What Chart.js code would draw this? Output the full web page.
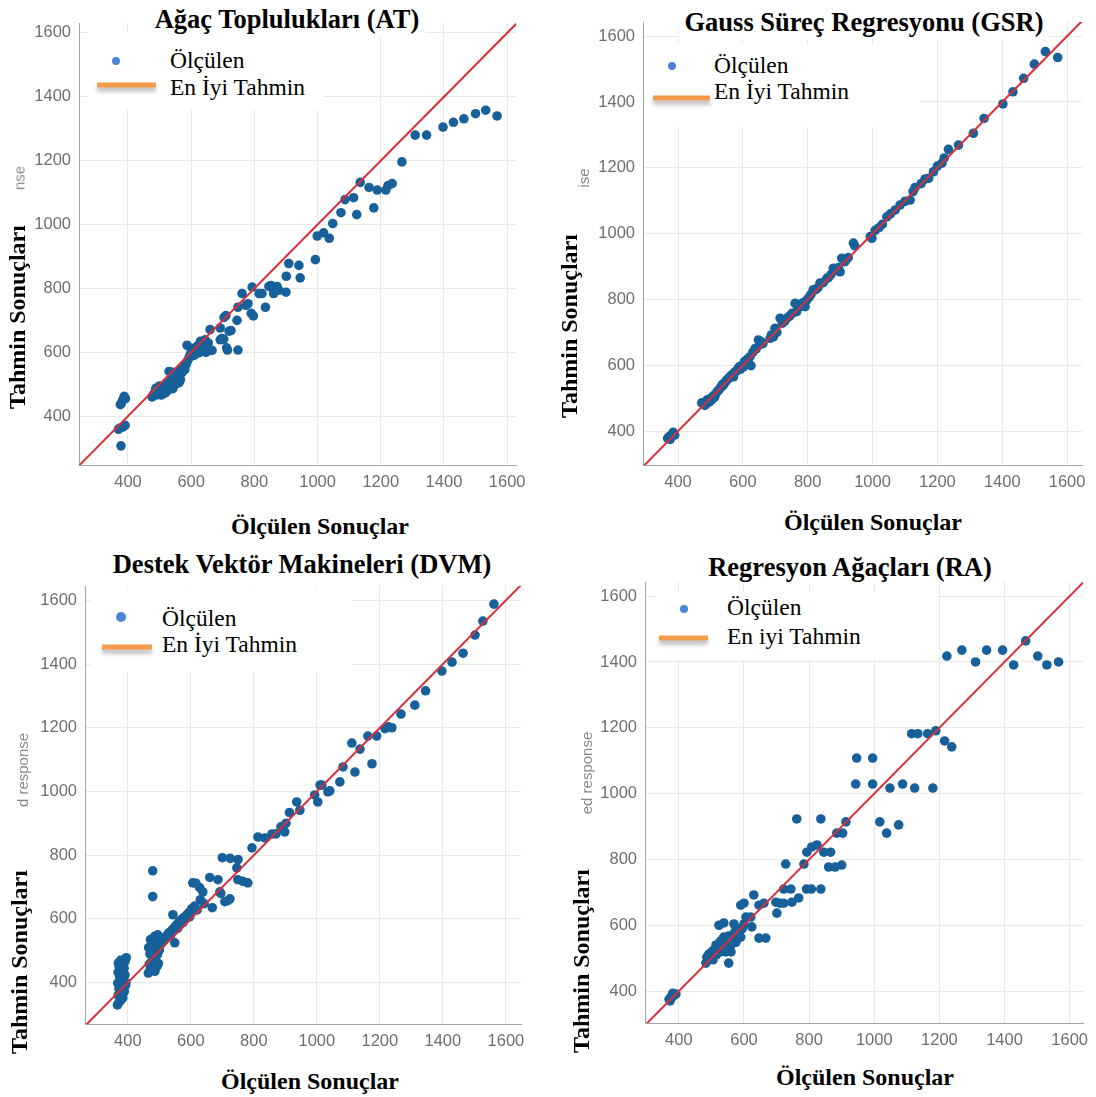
<!DOCTYPE html>
<html lang="tr">
<head>
<meta charset="utf-8">
<title>Tahmin ve Ölçülen Sonuçlar</title>
<script src="https://cdn.jsdelivr.net/npm/chart.js@4.4.1/dist/chart.umd.min.js"></script>
<style>
  html, body { margin: 0; padding: 0; background: #fff; }
  #page { position: relative; width: 1096px; height: 1097px; overflow: hidden; font-family: "Liberation Serif", "Times New Roman", serif; }
  canvas { position: absolute; }
  .lbl { position: absolute; white-space: nowrap; transform: translate(-50%, -50%); z-index: 3; line-height: 1; }
  .title { font-weight: bold; font-size: 26.5px; background: #fff; padding: 3px 6px; }
  .axis-title { font-weight: bold; font-size: 24px; }
  .axis-title.y { transform: translate(-50%, -50%) rotate(-90deg); }
  .ghost { font-family: "Liberation Sans", Arial, sans-serif; font-size: 15px; color: #8a8a8a; transform: translate(-50%, -50%) rotate(-90deg); z-index: 1; }
  .legend-box { position: absolute; background: #fff; z-index: 2; }
  .legend-dot { position: absolute; border-radius: 50%; background: #4c84d4; transform: translate(-50%, -50%); z-index: 3; }
  .legend-line { position: absolute; height: 5px; background: #f39a4b; box-shadow: 0 4px 4px rgba(0,0,0,0.28); transform: translateY(-50%); z-index: 3; }
  .legend-text { position: absolute; font-size: 23.5px; transform: translateY(-50%); z-index: 3; white-space: nowrap; line-height: 1; }
</style>
</head>
<body>
<div id="page"></div>
<script>
const TICK_VALUES = [400, 600, 800, 1000, 1200, 1400, 1600];

const LEGEND_LABELS = ["Ölçülen", "En İyi Tahmin"];
const RA_LEGEND_LABELS = ["Ölçülen", "En iyi Tahmin"];

// [measured, predicted] pairs for each model
const AT_POINTS = [
  [370,359],[378,307],[384,366],[391,371],[373,362],[379,440],[388,462],[383,450],[392,455],[376,436],
  [476,460],[481,468],[485,474],[489,466],[493,479],[497,470],[501,484],[505,476],[509,489],[513,481],
  [516,494],[520,486],[523,499],[526,490],[529,504],[532,496],[535,510],[538,502],[541,517],[545,508],
  [548,523],[551,514],[554,530],[558,520],[561,537],[564,528],[568,545],[572,538],[576,553],[580,546],
  [584,562],[588,572],[592,580],[596,590],[530,540],[540,537],[488,487],[499,494],[556,503],[524,478],
  [511,470],[542,486],[566,514],[505,466],[519,474],[547,498],[562,505],
  [587,622],[600,600],[605,612],[609,590],[614,604],[619,619],[624,598],[629,634],[634,611],[639,624],
  [644,639],[649,617],[654,629],[659,607],[647,600],[666,606],[660,671],[692,676],[692,639],[703,641],
  [720,666],[715,607],[748,607],[704,709],[726,668],[697,643],[712,614],[710,715],[745,700],[748,741],
  [761,784],
  [773,747],[780,752],[790,722],[797,714],[793,804],[815,784],[824,784],[835,741],[846,806],[853,809],
  [861,784],[872,806],[878,794],[900,788],[901,838],[909,878],[941,872],[945,833],
  [993,890],[999,964],[1019,974],[1037,957],[1048,1003],[1074,1037],[1087,1078],[1114,1084],[1124,1031],
  [1135,1132],[1163,1116],[1178,1052],[1189,1108],[1216,1108],[1223,1122],[1236,1128],[1267,1196],
  [1309,1280],[1345,1280],[1397,1305],[1430,1320],[1463,1331],[1500,1347],[1532,1358],[1568,1340]
];

const GSR_POINTS = [
  [368,378],[373,383],[378,386],[382,390],[386,393],[390,388],[376,375],[385,396],
  [473,486],[478,482],[483,478],[489,494],[490,485],[494,495],[497,489],[501,500],[505,496],[509,507],
  [513,503],[517,514],[521,520],[525,524],[529,530],[533,534],[537,542],[540,540],[545,548],[549,553],
  [553,558],[557,560],[561,566],[565,570],[571,565],[573,577],[577,581],[581,583],[585,590],[589,595],
  [593,588],[597,600],[602,595],[605,611],[609,606],[613,617],[617,620],[622,626],[625,599],[631,640],
  [638,651],[641,650],[648,677],[651,662],[657,671],[662,666],
  [684,682],[688,692],[694,686],[699,712],[705,700],[715,743],[722,728],[730,735],[738,745],[745,750],
  [752,758],[761,788],[766,763],[772,775],[779,783],[785,790],[792,778],[797,798],[804,806],[810,815],
  [817,829],[825,830],[832,836],[838,850],[848,851],[859,864],[864,866],[872,876],[879,895],[888,890],
  [895,897],[900,884],[905,925],[915,915],[925,927],[941,971],[945,963],
  [993,991],[998,986],[1008,1010],[1020,1018],[1030,1028],[1044,1051],[1055,1060],[1070,1072],[1085,1087],
  [1100,1098],[1116,1102],[1125,1128],[1131,1140],[1150,1152],[1162,1166],[1173,1168],[1188,1188],
  [1200,1205],[1214,1214],[1221,1230],[1234,1256],[1265,1269],[1311,1305],[1344,1350],[1402,1394],
  [1433,1431],[1466,1472],[1499,1515],[1533,1553],[1571,1535]
];

const DVM_POINTS = [
  [367,330],[372,338],[378,345],[384,352],[369,360],[376,368],[389,372],[372,380],[381,388],[393,392],
  [368,398],[378,405],[386,410],[374,418],[391,424],[369,432],[380,438],[388,445],[372,452],[384,458],
  [391,466],[377,470],[395,478],[370,462],[382,425],[394,400],
  [465,430],[470,438],[478,445],[486,435],[492,450],[468,458],[475,465],[482,472],[497,460],[488,480],
  [470,490],[480,497],[494,488],[500,502],[466,510],[478,518],[490,520],[498,530],[472,535],[485,545],
  [495,550],[479,751],[479,670],
  [505,520],[512,530],[518,540],[524,548],[530,556],[535,545],[540,565],[543,613],[549,525],[547,572],
  [553,580],[558,570],[562,590],[566,582],[570,598],[575,588],[578,605],[583,600],[587,612],[592,618],
  [596,606],[600,625],[606,713],[616,712],[628,698],[638,685],[603,632],[612,640],[620,628],[630,660],
  [642,648],[668,635],[695,680],[717,657],
  [660,730],[686,723],[692,685],[708,654],[724,663],[700,792],[725,790],[750,786],[746,760],[749,723],
  [765,718],[781,713],[794,823],[813,857],[835,854],[857,866],[870,867],[886,889],[898,873],[902,900],
  [913,934],[936,967],[946,941],[993,989],[1003,967],[1010,1020],[1016,1020],[1035,999],[1041,1002],
  [1073,1030],[1083,1077],[1111,1152],[1121,1061],[1137,1133],[1162,1174],[1175,1087],[1190,1174],
  [1216,1197],[1228,1203],[1238,1200],[1267,1243],[1311,1271],[1345,1316],[1397,1378],[1429,1406],
  [1464,1434],[1502,1491],[1527,1535],[1562,1588]
];

const RA_POINTS = [
  [370,375],[375,380],[379,382],[384,386],[388,390],[391,391],[381,393],[373,370],
  [483,485],[486,503],[492,512],[501,519],[497,500],[514,540],[523,540],[532,540],[553,485],[544,519],
  [560,519],[538,564],[553,567],[569,570],[578,561],[590,564],[523,600],[538,607],[569,604],[600,604],
  [624,595],[606,625],[621,625],[508,525],[520,530],[530,520],[545,545],[555,550],[565,555],[575,548],
  [585,575],[595,590],[505,495],[515,510],[548,535],[560,540],[572,580],[580,590],[528,552],[540,530],
  [590,661],[600,667],[630,692],[646,661],[661,667],[646,561],[667,561],[698,670],[710,667],[722,667],
  [701,637],[747,670],[768,683],[722,710],[744,710],[792,710],[807,710],[836,710],[728,786],[784,786],
  [793,822],[808,838],[824,844],[845,822],[866,822],[860,777],[880,777],[900,783],[762,923],[836,923],
  [885,880],[903,880],[913,914],
  [946,1108],[995,1108],[943,1029],[995,1029],[1048,1017],[1087,1029],[1124,1017],[1180,1017],[1017,914],
  [1038,880],[1075,905],[1115,1182],[1134,1182],[1164,1182],[1189,1191],[1216,1160],[1238,1142],
  [1223,1418],[1269,1436],[1311,1400],[1345,1436],[1394,1436],[1428,1391],[1465,1464],[1502,1418],
  [1530,1391],[1566,1400]
];

const DOT_COLOR = "#17609a";
const LINE_COLOR = "#d92f3a";

// plot frames in page pixels: [left, top, right, bottom]
const PANELS = [
  {
    title: "Ağaç Toplulukları (AT)", points: AT_POINTS, labels: LEGEND_LABELS,
    area: [79, 23, 516, 465], xRange: [245, 1628], yRange: [247, 1631],
    titleAt: [287, 19], yTitleAt: [17, 317], xTitleAt: [320, 526],
    ghost: { text: "nse", at: [19, 178] },
    legend: { box: [88, 32, 235, 78], dot: [116, 61, 8], line: [97, 156, 85], text: [170, 61, 88] },
  },
  {
    title: "Gauss Süreç Regresyonu (GSR)", points: GSR_POINTS, labels: LEGEND_LABELS,
    area: [643, 22, 1082, 465], xRange: [292, 1646], yRange: [297, 1643],
    titleAt: [864, 22], yTitleAt: [569, 326], xTitleAt: [873, 522],
    ghost: { text: "ise", at: [583, 178] },
    legend: { box: [645, 45, 275, 82], dot: [672, 66, 8], line: [653, 710, 98], text: [714, 66, 92] },
  },
  {
    title: "Destek Vektör Makineleri (DVM)", points: DVM_POINTS, labels: LEGEND_LABELS,
    area: [85, 586, 521, 1024], xRange: [264, 1648], yRange: [270, 1645],
    titleAt: [302, 564], yTitleAt: [19, 962], xTitleAt: [310, 1081],
    ghost: { text: "d response", at: [22, 770] },
    legend: { box: [90, 588, 262, 84], dot: [121, 617, 10], line: [102, 152, 647], text: [162, 619, 645] },
  },
  {
    title: "Regresyon Ağaçları (RA)", points: RA_POINTS, labels: RA_LEGEND_LABELS,
    area: [645, 582, 1083, 1023], xRange: [296, 1641], yRange: [303, 1643],
    titleAt: [850, 567], yTitleAt: [581, 961], xTitleAt: [865, 1077],
    ghost: { text: "ed response", at: [586, 773] },
    legend: { box: [656, 592, 282, 68], dot: [684, 609, 8], line: [659, 708, 638], text: [727, 608, 637] },
  },
];

const page = document.getElementById("page");

function addLabel(cls, text, x, y) {
  const el = document.createElement("div");
  el.className = "lbl " + cls;
  el.textContent = text;
  el.style.left = x + "px";
  el.style.top = y + "px";
  page.appendChild(el);
  return el;
}

function addLegend(p) {
  const lg = p.legend;
  const box = document.createElement("div");
  box.className = "legend-box";
  Object.assign(box.style, { left: lg.box[0] + "px", top: lg.box[1] + "px", width: lg.box[2] + "px", height: lg.box[3] + "px" });
  page.appendChild(box);

  const dot = document.createElement("div");
  dot.className = "legend-dot";
  Object.assign(dot.style, { left: lg.dot[0] + "px", top: lg.dot[1] + "px", width: lg.dot[2] + "px", height: lg.dot[2] + "px" });
  page.appendChild(dot);

  const line = document.createElement("div");
  line.className = "legend-line";
  Object.assign(line.style, { left: lg.line[0] + "px", width: (lg.line[1] - lg.line[0]) + "px", top: lg.line[2] + "px" });
  page.appendChild(line);

  p.labels.forEach((txt, i) => {
    const t = document.createElement("div");
    t.className = "legend-text";
    t.textContent = txt;
    t.style.left = lg.text[0] + "px";
    t.style.top = lg.text[1 + i] + "px";
    page.appendChild(t);
  });
}

function axisOptions(range, fitKey, fitSize) {
  return {
    type: "linear",
    min: range[0],
    max: range[1],
    afterBuildTicks: (s) => { s.ticks = TICK_VALUES.map((v) => ({ value: v })); },
    afterFit: (s) => { s[fitKey] = fitSize; },
    ticks: {
      autoSkip: false,
      maxRotation: 0,
      padding: 8,
      color: "#6e6e6e",
      font: { family: "Liberation Sans", size: 16.5 },
      callback: (v) => String(v),
    },
    grid: { color: "#e8e8e8", lineWidth: 1, drawTicks: false },
    border: { color: "#a3a3a3", width: 1 },
  };
}

function makeChart(p) {
  // generous top/right room so edge tick labels never shrink the plot frame
  const pad = { left: 60, top: 26, right: 32, bottom: 30 };
  const [l, t, r, b] = p.area;
  const width = (r - l) + pad.left + pad.right;
  const height = (b - t) + pad.top + pad.bottom;

  const canvas = document.createElement("canvas");
  canvas.width = width;
  canvas.height = height;
  canvas.style.left = (l - pad.left) + "px";
  canvas.style.top = (t - pad.top) + "px";
  canvas.style.width = width + "px";
  canvas.style.height = height + "px";
  page.appendChild(canvas);

  const lo = Math.min(p.xRange[0], p.yRange[0]);
  const hi = Math.max(p.xRange[1], p.yRange[1]);

  new Chart(canvas, {
    type: "scatter",
    data: {
      datasets: [
        {
          type: "line",
          label: p.labels[1],
          data: [{ x: lo, y: lo }, { x: hi, y: hi }],
          borderColor: LINE_COLOR,
          borderWidth: 2,
          pointRadius: 0,
          order: 0,
        },
        {
          label: p.labels[0],
          data: p.points.map(([x, y]) => ({ x, y })),
          backgroundColor: DOT_COLOR,
          borderWidth: 0,
          pointRadius: 4.8,
          order: 1,
        },
      ],
    },
    options: {
      responsive: false,
      animation: false,
      layout: { padding: { left: 0, top: pad.top, right: pad.right, bottom: 0 } },
      plugins: { legend: { display: false }, tooltip: { enabled: false } },
      scales: {
        x: axisOptions(p.xRange, "height", pad.bottom),
        y: axisOptions(p.yRange, "width", pad.left),
      },
    },
  });
}

PANELS.forEach((p) => {
  makeChart(p);
  addLabel("ghost", p.ghost.text, p.ghost.at[0], p.ghost.at[1]);
  addLegend(p);
  addLabel("title", p.title, p.titleAt[0], p.titleAt[1]);
  addLabel("axis-title y", "Tahmin Sonuçları", p.yTitleAt[0], p.yTitleAt[1]);
  addLabel("axis-title", "Ölçülen Sonuçlar", p.xTitleAt[0], p.xTitleAt[1]);
});
</script>
</body>
</html>
